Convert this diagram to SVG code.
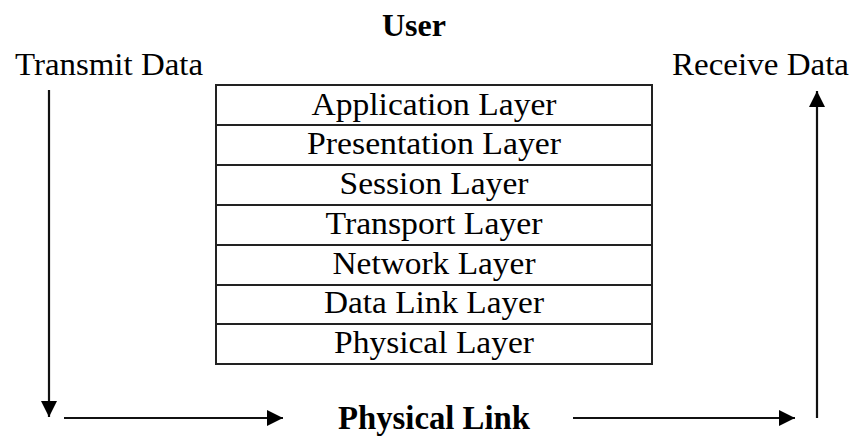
<svg xmlns="http://www.w3.org/2000/svg" width="857" height="437" viewBox="0 0 857 437">
<style>
.t{font-family:"Liberation Serif","Times New Roman",serif;fill:#000;}
.lbl{font-size:32px;}
.b{font-size:32px;font-weight:bold;}
.pl{font-size:33px;font-weight:bold;}
.row{font-size:31px;text-anchor:middle;}
.cell{fill:#fff;stroke:#222;stroke-width:2;}
.conn{stroke:#111;stroke-width:2.2;fill:none;marker-end:url(#ah);}
</style>
<defs>
<marker id="ah" markerUnits="userSpaceOnUse" markerWidth="18" markerHeight="18" refX="16" refY="8" orient="auto">
<path d="M0,0 L16,8 L0,16 Z" fill="#000"/>
</marker>
</defs>
<rect width="857" height="437" fill="#fff"/>
<g id="user"><text class="t b" x="382" y="36" textLength="64" lengthAdjust="spacingAndGlyphs">User</text></g>
<g id="transmit"><text class="t lbl" x="15" y="75" textLength="188" lengthAdjust="spacingAndGlyphs">Transmit Data</text></g>
<g id="receive"><text class="t lbl" x="672" y="75" textLength="177" lengthAdjust="spacingAndGlyphs">Receive Data</text></g>
<g id="physical-link"><text class="t pl" x="338" y="429" textLength="192" lengthAdjust="spacingAndGlyphs">Physical Link</text></g>
<g id="application"><rect class="cell" x="216" y="85" width="436" height="40"/><text class="t row" x="434" y="115" textLength="245" lengthAdjust="spacingAndGlyphs">Application Layer</text></g>
<g id="presentation"><rect class="cell" x="216" y="125" width="436" height="40"/><text class="t row" x="434" y="154" textLength="254" lengthAdjust="spacingAndGlyphs">Presentation Layer</text></g>
<g id="session"><rect class="cell" x="216" y="165" width="436" height="40"/><text class="t row" x="434" y="194" textLength="189" lengthAdjust="spacingAndGlyphs">Session Layer</text></g>
<g id="transport"><rect class="cell" x="216" y="205" width="436" height="40"/><text class="t row" x="434" y="234" textLength="217" lengthAdjust="spacingAndGlyphs">Transport Layer</text></g>
<g id="network"><rect class="cell" x="216" y="245" width="436" height="40"/><text class="t row" x="434" y="274" textLength="203" lengthAdjust="spacingAndGlyphs">Network Layer</text></g>
<g id="datalink"><rect class="cell" x="216" y="285" width="436" height="39"/><text class="t row" x="434" y="313" textLength="220" lengthAdjust="spacingAndGlyphs">Data Link Layer</text></g>
<g id="physical"><rect class="cell" x="216" y="324" width="436" height="40"/><text class="t row" x="434" y="353" textLength="200" lengthAdjust="spacingAndGlyphs">Physical Layer</text></g>
<g id="connectors">
<line class="conn" x1="49" y1="90" x2="49" y2="417"/>
<line class="conn" x1="64" y1="418" x2="283" y2="418"/>
<line class="conn" x1="573" y1="418" x2="795" y2="418"/>
<line class="conn" x1="817" y1="418" x2="817" y2="91"/>
</g>
</svg>
